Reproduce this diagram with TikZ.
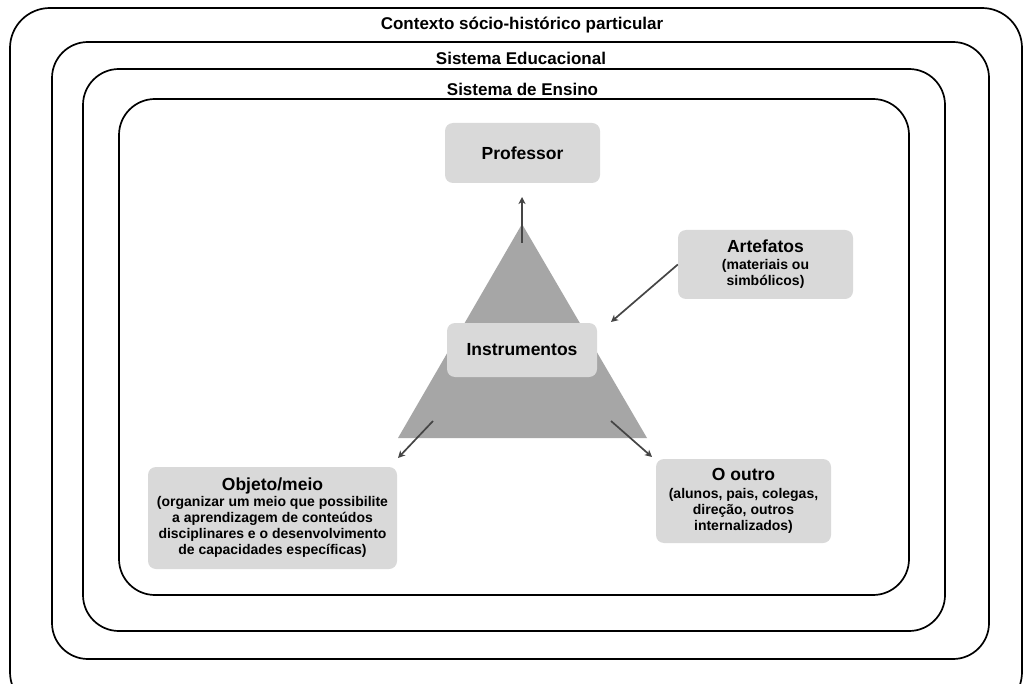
\documentclass[tikz,border=0pt]{standalone}
\usepackage{fontspec}
\setmainfont{Liberation Sans}
\usetikzlibrary{arrows.meta}
\definecolor{boxgray}{HTML}{D9D9D9}
\definecolor{trigray}{HTML}{A6A6A6}
\definecolor{arrowgray}{HTML}{454545}
\newcommand{\bigtxt}{\fontsize{17.5}{19}\selectfont}
\tikzset{
  frame/.style={draw=black, line width=1.7pt, rounded corners=36pt},
  framelabel/.style={font=\bfseries\fontsize{17}{19}\selectfont, inner sep=0pt},
  graybox/.style={fill=boxgray, rounded corners=8pt, align=center, inner sep=0pt,
    font=\bfseries\fontsize{14}{16}\selectfont},
  boxtitle/.style={font=\bfseries\fontsize{17.5}{19}\selectfont},
  arr/.style={draw=arrowgray, line width=1.7pt, -{Stealth[length=7pt,width=7pt,inset=2pt]}},
}
\begin{document}
\begin{tikzpicture}[x=1pt,y=-1pt]
\useasboundingbox (0,0) rectangle (1027,684);
\fill[white] (0,0) rectangle (1027,684);
\begin{scope}
\clip (0,0) rectangle (1027,684);
% nested frames
\draw[frame, rounded corners=40pt] (10,8) rectangle (1022,712);
\draw[frame] (52,42) rectangle (989,659);
\draw[frame] (83,69) rectangle (945,631);
\draw[frame] (119,99) rectangle (909,595);
\end{scope}
\node[framelabel] (ctx) at (522,25) {Contexto sócio-histórico particular};
\node[framelabel] (edu) at (521,58) {Sistema Educacional};
\node[framelabel] (ens) at (522.5,89) {Sistema de Ensino};

% triangle
\fill[trigray] (522,224) -- (647,438) -- (398,438) -- cycle;

% boxes
\node[graybox, minimum width=155pt, minimum height=60pt, boxtitle] (prof) at (522.5,153) {Professor};
\node[graybox, minimum width=150pt, minimum height=54pt, boxtitle] (instr) at (522,350) {Instrumentos};
\node[graybox, minimum width=175pt, minimum height=69pt] (art) at (765.5,264.5)
  {\bigtxt Artefatos\\[1pt] (materiais ou\\ simbólicos)};
\node[graybox, minimum width=249pt, minimum height=102pt] (obj) at (272.5,518)
  {\bigtxt Objeto/meio\\ (organizar um meio que possibilite\\ a aprendizagem de conteúdos\\ disciplinares e o desenvolvimento\\ de capacidades específicas)};
\node[graybox, minimum width=175pt, minimum height=84pt] (outro) at (743.5,501)
  {\bigtxt O outro\\[2pt] (alunos, pais, colegas,\\ direção, outros\\ internalizados)};

% arrows
\coordinate (aprof1) at (522,243);
\coordinate (aprof2) at (522,197);
\coordinate (aart2) at (611,322);
\coordinate (aobj1) at (433,421);
\coordinate (aobj2) at (398,458);
\coordinate (aout1) at (611,421);
\coordinate (aout2) at (652,457);
\draw[arr] (aprof1) -- (aprof2);
\draw[arr] (art.west) -- (aart2);
\draw[arr] (aobj1) -- (aobj2);
\draw[arr] (aout1) -- (aout2);
\end{tikzpicture}
\end{document}
